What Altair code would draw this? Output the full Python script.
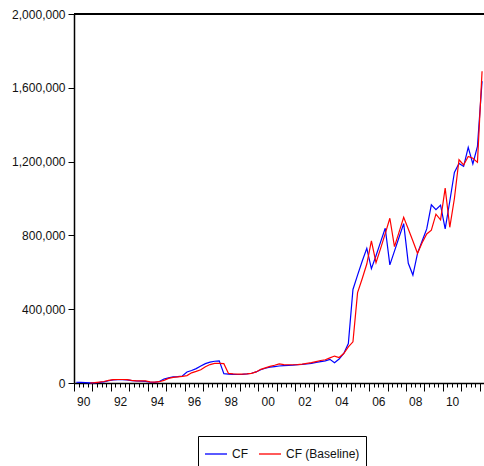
import altair as alt
import pandas as pd

# Quarterly observations, 1990Q1 .. 2012Q1
quarters = pd.period_range("1990Q1", "2012Q1", freq="Q")

cf = [
    4000, 3000, 2000, 1000,            # 1990
    1000, 3000, 6000, 12000,           # 1991
    17000, 18000, 18000, 17000,        # 1992
    13000, 11000, 10000, 9000,         # 1993
    4000, 3000, 8000, 22000,           # 1994
    28000, 33000, 35000, 38000,        # 1995
    60000, 68000, 78000, 92000,        # 1996
    105000, 113000, 118000, 120000,    # 1997
    51000, 48000, 47000, 46000,        # 1998
    47000, 49000, 53000, 60000,        # 1999
    72000, 80000, 86000, 89000,        # 2000
    92000, 94000, 96000, 97000,        # 2001
    100000, 101000, 103000, 106000,    # 2002
    112000, 116000, 120000, 128000,    # 2003
    110000, 130000, 160000, 214000,    # 2004
    507000, 585000, 660000, 730000,    # 2005
    620000, 690000, 765000, 839000,    # 2006
    640000, 715000, 790000, 864000,    # 2007
    649000, 585000, 703000, 770000,    # 2008
    835000, 966000, 939000, 964000,    # 2009
    835000, 985000, 1141000, 1190000,  # 2010
    1174000, 1277000, 1187000, 1283000,  # 2011
    1636000,                           # 2012
]

cf_baseline = [
    None, None, None, 0,
    2000, 5000, 8000, 14000,
    18000, 19000, 19000, 18000,
    14000, 12000, 12000, 11000,
    6000, 5000, 7000, 14000,
    25000, 30000, 33000, 36000,
    40000, 55000, 63000, 72000,
    88000, 100000, 106000, 106000,
    105000, 52000, 49000, 48000,
    48000, 49000, 52000, 60000,
    74000, 82000, 90000, 96000,
    104000, 100000, 99000, 99000,
    100000, 102000, 106000, 110000,
    116000, 122000, 126000, 136000,
    146000, 138000, 160000, 196000,
    223000, 490000, 565000, 645000,
    770000, 652000, 730000, 810000,
    893000, 739000, 818000, 898000,
    835000, 770000, 703000, 760000,
    808000, 828000, 915000, 884000,
    1056000, 844000, 1000000, 1210000,
    1182000, 1228000, 1218000, 1196000,
    1690000,
]

series_names = ["CF", "CF (Baseline)"]
series_colors = ["#0000ff", "#ff0000"]
y_ticks = [0, 400000, 800000, 1200000, 1600000, 2000000]
y_max = 2000000

# each observation sits in the middle of its quarter
obs_time = [q.year + (q.quarter - 1) / 4 + 0.125 for q in quarters]

rows = []
for name, values in zip(series_names, [cf, cf_baseline]):
    for t, v in zip(obs_time, values):
        if v is not None:
            rows.append({"t": t, "value": v, "series": name})
df = pd.DataFrame(rows)

FONT = "Liberation Sans"
quarter_ticks = [1990 + k / 4 for k in range(89)]

x_enc = alt.X(
    "t:Q",
    scale=alt.Scale(domain=[1990, 2012.23], nice=False, zero=False),
    axis=alt.Axis(
        title=None,
        values=quarter_ticks,
        grid=False,
        domainColor="black",
        domainWidth=1.5,
        tickColor="black",
        tickWidth=1,
        tickSize={"condition": {"test": "datum.value % 1 == 0", "value": 8}, "value": 4},
        labelPadding=9,
        labelOverlap=False,
        labelFlush=False,
        labelBound=False,
        labelFont=FONT,
        labelFontSize=12,
        labelColor="#111",
        labelExpr="datum.value % 2 == 0.5 ? slice('0' + floor(datum.value % 100), -2) : ''",
    ),
)

y_scale = alt.Scale(domain=[0, y_max], nice=False)
y_axis = alt.Axis(
    title=None,
    values=y_ticks,
    format=",.0f",
    grid=False,
    domainColor="black",
    domainWidth=1.5,
    tickColor="black",
    tickSize=6,
    labelPadding=3,
    labelFont=FONT,
    labelFontSize=12,
    labelColor="#111",
)
y_enc = alt.Y("value:Q", scale=y_scale, axis=y_axis)

color_enc = alt.Color(
    "series:N",
    scale=alt.Scale(domain=series_names, range=series_colors),
    legend=alt.Legend(
        title=None,
        orient="none",
        legendX=124,
        legendY=422,
        direction="horizontal",
        symbolType="stroke",
        symbolSize=484,
        symbolStrokeWidth=1.3,
        labelFont=FONT,
        labelFontSize=12,
        labelColor="#111",
        labelOffset=4,
        columnPadding=8,
        padding=6,
        strokeColor="black",
        fillColor="white",
    ),
)

base = alt.Chart(df)

cf_line = base.transform_filter(alt.datum.series == "CF").mark_line(strokeWidth=1.2).encode(
    x=x_enc, y=y_enc, color=color_enc
)
baseline_line = base.transform_filter(alt.datum.series == "CF (Baseline)").mark_line(
    strokeWidth=1.2
).encode(x=x_enc, y=y_enc, color=color_enc)

# frame line along the top of the plot
top_frame = alt.Chart(df).mark_rule(color="black", strokeWidth=2).encode(
    y=alt.YDatum(y_max, type="quantitative", scale=y_scale, axis=y_axis)
)

chart = (
    alt.layer(cf_line, baseline_line, top_frame)
    .properties(
        width=410,
        height=369,
        autosize=alt.AutoSizeParams(type="none"),
        padding={"left": 74, "top": 14, "right": 0, "bottom": 83},
    )
    .configure(font=FONT)
    .configure_view(strokeWidth=0)
)

chart.save("out.html", embed_options={"renderer": "svg", "actions": False})
